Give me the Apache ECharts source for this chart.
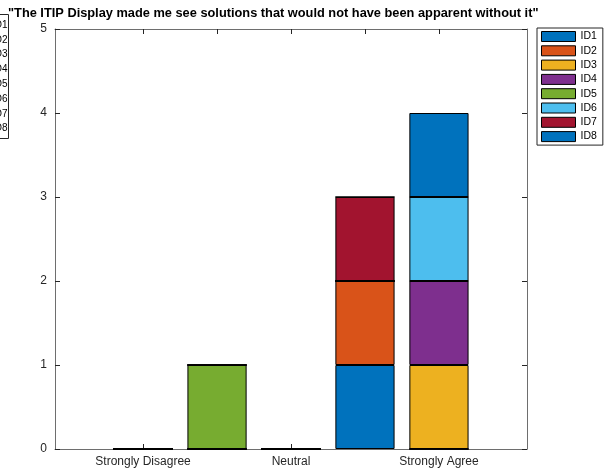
<!DOCTYPE html>
<html>
<head>
<meta charset="utf-8">
<script src="https://cdn.jsdelivr.net/npm/echarts@6/dist/echarts.min.js"></script>
<style>
html,body{margin:0;padding:0;background:#fff;}
#chart{width:611px;height:475px;}
</style>
</head>
<body>
<div id="chart"></div>
<script>
// ---- data ----
const categories = ["Strongly Disagree", "Disagree", "Neutral", "Agree", "Strongly Agree"];
const categoryPositions = [1, 2, 3, 4, 5];
const labeledPositions = [1, 3, 5];
const seriesNames = ["ID1", "ID2", "ID3", "ID4", "ID5", "ID6", "ID7", "ID8"];
const ID1 = [0, 0, 0, 1, 0];
const ID2 = [0, 0, 0, 1, 0];
const ID3 = [0, 0, 0, 0, 1];
const ID4 = [0, 0, 0, 0, 1];
const ID5 = [0, 1, 0, 0, 0];
const ID6 = [0, 0, 0, 0, 1];
const ID7 = [0, 0, 0, 1, 0];
const ID8 = [0, 0, 0, 0, 1];
const yTicks = [0, 1, 2, 3, 4, 5];
const titleText = '"The ITIP Display made me see solutions that would not have been apparent without it"';

const seriesValues = [ID1, ID2, ID3, ID4, ID5, ID6, ID7, ID8];
const colors = ["#0072BD", "#D95319", "#EDB120", "#7E2F8E", "#77AC30", "#4DBEEE", "#A2142F", "#0072BD"];

const W = 611, H = 475;
const gridL = 55, gridR = 84, gridT = 29, gridB = 26;
const xMin = -0.19, xMax = 6.19;
const plotW = W - gridL - gridR;
const barW = 0.8 * plotW / (xMax - xMin);
const axisColor = "#6e6e6e";
const textColor = "#262626";
const font = "Liberation Sans, Arial, Helvetica, sans-serif";

const chart = echarts.init(document.getElementById('chart'), null, {renderer: 'canvas'});

// rows are [value, position] so the stacked dimension (value) comes first
const series = seriesNames.map((name, i) => ({
  name: name,
  type: 'bar',
  stack: 'total',
  barWidth: barW,
  encode: {x: 1, y: 0},
  itemStyle: {color: colors[i], borderColor: '#000', borderWidth: 1},
  emphasis: {disabled: true},
  data: categoryPositions.map((x, j) => [seriesValues[i][j], x])
}));

// clipped legend at left edge
const leftLegend = [];
leftLegend.push({type: 'rect', shape: {x: -60, y: 14.5, width: 68.5, height: 124}, style: {fill: '#fff', stroke: textColor, lineWidth: 1}, z: 10});
seriesNames.forEach((n, i) => {
  leftLegend.push({type: 'text', x: 7.5, y: 25 + i * 14.8, style: {text: n, fill: '#000', font: '10px ' + font, textAlign: 'right', textVerticalAlign: 'middle'}, z: 11});
});

const xAxisCommon = {
  type: 'value', min: xMin, max: xMax,
  splitLine: {show: false},
  axisLine: {show: true, onZero: false, lineStyle: {color: axisColor, width: 1}},
  axisTick: {show: true, inside: true, length: 5, customValues: categoryPositions, lineStyle: {color: textColor}},
};
const yAxisCommon = {
  type: 'value', min: yTicks[0], max: yTicks[yTicks.length - 1], interval: 1,
  splitLine: {show: false},
  axisLine: {show: true, onZero: false, lineStyle: {color: axisColor, width: 1}},
  axisTick: {show: true, inside: true, length: 5, lineStyle: {color: textColor}}
};

const option = {
  animation: false,
  backgroundColor: '#fff',
  title: {
    text: titleText, left: 3, top: 2,
    textStyle: {fontSize: 12.8, fontWeight: 'bold', color: '#000', fontFamily: font}
  },
  grid: {left: gridL, right: gridR, top: gridT, bottom: gridB, containLabel: false},
  legend: {
    orient: 'vertical', left: 537, top: 28,
    data: seriesNames,
    itemWidth: 34, itemHeight: 10, itemGap: 3.3,
    icon: 'rect',
    padding: [3, 6, 3, 4],
    borderColor: textColor, borderWidth: 1,
    selectedMode: false,
    itemStyle: {borderWidth: 1, borderColor: '#000'},
    textStyle: {fontSize: 10.5, color: '#000', fontFamily: font, padding: [0, 0, 0, 0]}
  },
  xAxis: [
    Object.assign({}, xAxisCommon, {
      position: 'bottom',
      axisLabel: {
        show: true, customValues: labeledPositions, margin: 7,
        fontSize: 12, color: textColor, fontFamily: font,
        formatter: v => { const k = categoryPositions.indexOf(Math.round(v)); return k >= 0 ? categories[k] : ''; }
      }
    }),
    Object.assign({}, xAxisCommon, {position: 'top', axisLabel: {show: false}})
  ],
  yAxis: [
    Object.assign({}, yAxisCommon, {
      position: 'left',
      axisLabel: {fontSize: 12, color: textColor, fontFamily: font, margin: 8}
    }),
    Object.assign({}, yAxisCommon, {position: 'right', axisLabel: {show: false}})
  ],
  graphic: leftLegend,
  series: series
};
chart.setOption(option);
</script>
</body>
</html>
